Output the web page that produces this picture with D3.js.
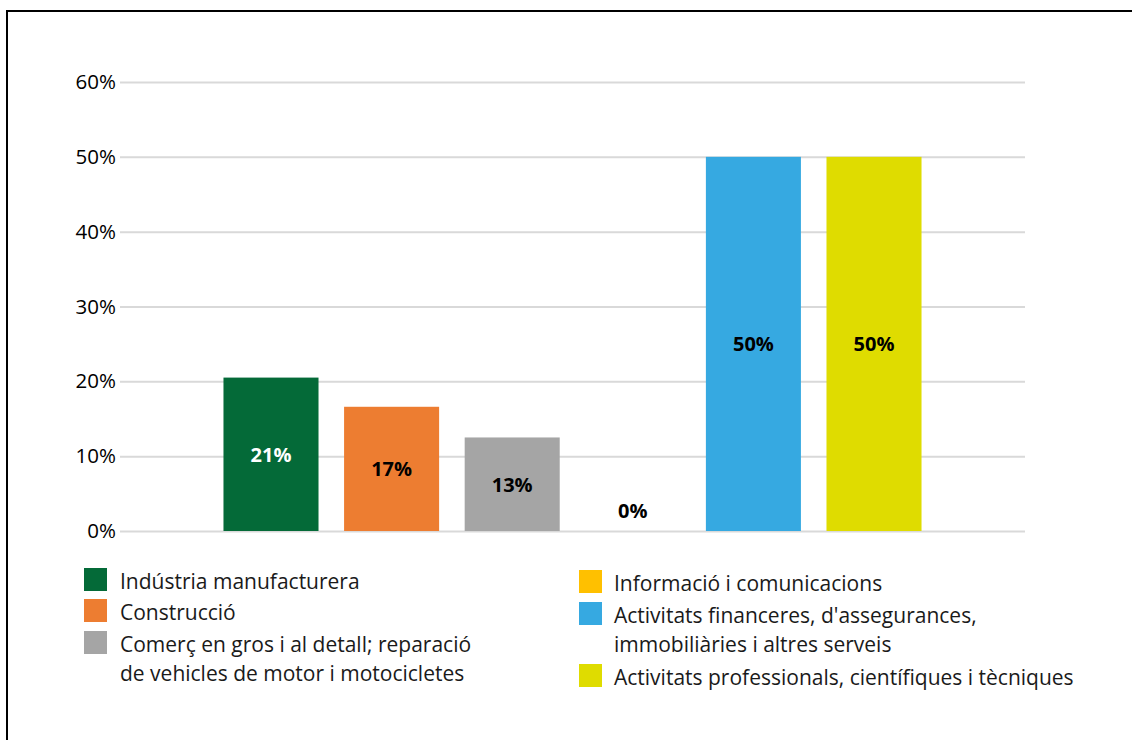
<!DOCTYPE html>
<html>
<head>
<meta charset="utf-8">
<script src="https://cdn.jsdelivr.net/npm/d3@7"></script>
<style>
  html, body { margin: 0; padding: 0; background: #fff; }
  svg { display: block; }
  text { font-family: "Open Sans", "Noto Sans", sans-serif; }
</style>
</head>
<body>
<svg id="chart" width="1132" height="740"></svg>
<script>
// Sectors (one bar each) and their shares, in percent
const categories = [
  "Indústria manufacturera",
  "Construcció",
  "Comerç en gros i al detall; reparació de vehicles de motor i motocicletes",
  "Informació i comunicacions",
  "Activitats financeres, d'assegurances, immobiliàries i altres serveis",
  "Activitats professionals, científiques i tècniques"
];
const values = [20.5, 16.6, 12.5, 0, 50, 50];
const colors = ["#046a38", "#ed7d31", "#a5a5a5", "#ffc000", "#36a9e1", "#dfdc00"];
const labelColors = ["#ffffff", "#000000", "#000000", "#000000", "#000000", "#000000"];
const yTicks = [0, 10, 20, 30, 40, 50, 60];

// Legend text, broken into lines
const legendLines = [
  ["Indústria manufacturera"],
  ["Construcció"],
  ["Comerç en gros i al detall; reparació", "de vehicles de motor i motocicletes"],
  ["Informació i comunicacions"],
  ["Activitats financeres, d'assegurances,", "immobiliàries i altres serveis"],
  ["Activitats professionals, científiques i tècniques"]
];

const svg = d3.select("#chart");

// outer frame
svg.append("rect")
  .attr("x", 7).attr("y", 11)
  .attr("width", 1300).attr("height", 1000)
  .attr("fill", "none").attr("stroke", "#000").attr("stroke-width", 2);

const plot = { left: 120, right: 1025, top: 82, bottom: 531 };

const x = d3.scaleBand()
  .domain(categories)
  .range([plot.left, plot.right])
  .paddingInner(0.212)
  .paddingOuter(0.858);

const y = d3.scaleLinear()
  .domain([0, 60])
  .range([plot.bottom, plot.top]);

// gridlines + tick labels
const yAxis = d3.axisLeft(y)
  .tickValues(yTicks)
  .tickSize(-(plot.right - plot.left))
  .tickPadding(4)
  .tickFormat(d => d + "%");

const gy = svg.append("g")
  .attr("transform", `translate(${plot.left},0)`)
  .call(yAxis);
gy.select(".domain").remove();
gy.selectAll(".tick line").attr("stroke", "#d9d9d9").attr("stroke-width", 2);
gy.selectAll(".tick text")
  .attr("fill", "#000")
  .style("font-size", "20.5px")
  .attr("x", -4);

// bars
svg.append("g").selectAll("rect")
  .data(categories)
  .join("rect")
  .attr("x", d => x(d))
  .attr("width", x.bandwidth())
  .attr("y", (d, i) => y(values[i]))
  .attr("height", (d, i) => y(0) - y(values[i]))
  .attr("fill", (d, i) => colors[i]);

// value labels, centred in each bar (above the baseline when empty)
svg.append("g").selectAll("text")
  .data(categories)
  .join("text")
  .attr("x", d => x(d) + x.bandwidth() / 2)
  .attr("y", (d, i) => values[i] > 0 ? (y(values[i]) + y(0)) / 2 : y(0) - 21)
  .attr("text-anchor", "middle")
  .attr("dominant-baseline", "central")
  .attr("fill", (d, i) => labelColors[i])
  .style("font-size", "20px")
  .style("font-weight", "700")
  .text((d, i) => Math.round(values[i]) + "%");

// legend in two columns
const legendCols = [
  { sx: 84, tx: 120, rows: [0, 1, 2], boxY: [568, 599, 631] },
  { sx: 579, tx: 614, rows: [3, 4, 5], boxY: [570, 602, 664] }
];
const lineH = 29;
legendCols.forEach(col => {
  col.rows.forEach((idx, r) => {
    const top = col.boxY[r];
    svg.append("rect")
      .attr("x", col.sx).attr("y", top)
      .attr("width", 23).attr("height", 23)
      .attr("fill", colors[idx]);
    const t = svg.append("text")
      .attr("x", col.tx)
      .attr("y", top + 20.5)
      .attr("fill", "#1a1a1a")
      .style("font-size", "21px");
    legendLines[idx].forEach((line, k) => {
      t.append("tspan")
        .attr("x", col.tx)
        .attr("dy", k === 0 ? 0 : lineH)
        .text(line);
    });
  });
});
</script>
</body>
</html>
